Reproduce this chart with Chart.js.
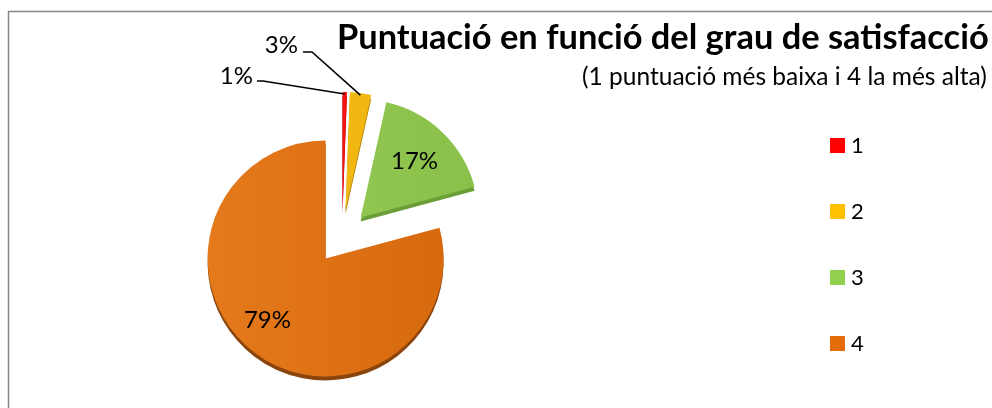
<!DOCTYPE html>
<html>
<head>
<meta charset="utf-8">
<script src="https://cdn.jsdelivr.net/npm/chart.js@4/dist/chart.umd.min.js"></script>
<style>
  html, body { margin: 0; padding: 0; background: #fff; overflow: hidden; }
</style>
</head>
<body>
<canvas id="chart" width="992" height="408"></canvas>
<script>
// data
const categories = ['1', '2', '3', '4'];
const shares = [0.6, 2.9, 17.3, 79.2];
const legendColors = ['#FF0000', '#FFC000', '#92D050', '#E46C0A'];
const faceLight = ['#FF2020', '#F6BE1C', '#97CC58', '#E67C1E'];
const faceDark = ['#EE0000', '#ECB00A', '#88BF48', '#D6670C'];
const rimColors = ['#A80000', '#B48606', '#6C9E38', '#8A450C'];
const titleText = 'Puntuació en funció del grau de satisfacció';
const subtitleText = '(1 puntuació més baixa i 4 la més alta)';

const EXPLODE = 27;  // how far every slice is pulled out
const DEPTH = 4;     // rim of the 3d pie
const FONT = 'Lato, "Open Sans", sans-serif';

// labels that sit outside the pie, with a leader line
const outsideLabels = {
  0: { x: 253, y: 76, path: [[257, 81], [263, 81]] },
  1: { x: 298, y: 45, path: [[303, 52], [312, 52]] }
};

function pull(arc) {
  const mid = (arc.startAngle + arc.endAngle) / 2;
  return [Math.cos(mid) * EXPLODE, Math.sin(mid) * EXPLODE];
}

function faceGradient(c) {
  const chart = c.chart;
  const area = chart.chartArea;
  const i = c.dataIndex;
  if (!area) return legendColors[i];
  const cx = (area.left + area.right) / 2;
  const g = chart.ctx.createLinearGradient(cx - 150, 0, cx + 150, 0);
  g.addColorStop(0, faceLight[i]);
  g.addColorStop(1, faceDark[i]);
  return g;
}

function paint(ctx, arc, color) {
  const saved = arc.options;
  arc.options = Object.assign({}, saved, { backgroundColor: color, borderColor: color });
  arc.draw(ctx);
  arc.options = saved;
}

function fitFont(ctx, text, weight, width) {
  ctx.font = weight + ' 100px ' + FONT;
  const size = 100 * width / ctx.measureText(text).width;
  return weight + ' ' + size.toFixed(2) + 'px ' + FONT;
}

const pie3d = {
  id: 'pie3d',
  beforeDraw(chart) {
    const ctx = chart.ctx;
    ctx.save();
    ctx.strokeStyle = '#868686';
    ctx.lineWidth = 1.5;
    ctx.beginPath();
    ctx.moveTo(8.5, 420);
    ctx.lineTo(8.5, 11.5);
    ctx.lineTo(1000, 11.5);
    ctx.stroke();
    ctx.restore();
  },
  beforeDatasetDraw(chart, args) {
    const ctx = chart.ctx;
    const arcs = args.meta.data;
    arcs.forEach((arc, i) => {
      const [dx, dy] = pull(arc);
      ctx.save();
      ctx.translate(dx, dy + DEPTH);
      paint(ctx, arc, rimColors[i]);
      ctx.restore();
    });
    arcs.forEach(arc => {
      const [dx, dy] = pull(arc);
      ctx.save();
      ctx.translate(dx, dy);
      arc.draw(ctx);
      ctx.restore();
    });
    return false;
  },
  afterDraw(chart) {
    const ctx = chart.ctx;
    const arcs = chart.getDatasetMeta(0).data;
    const total = shares.reduce((a, b) => a + b, 0);
    ctx.save();
    ctx.fillStyle = '#000';
    ctx.strokeStyle = '#000';
    ctx.lineWidth = 1.6;
    ctx.font = '24px ' + FONT;
    ctx.textBaseline = 'middle';

    arcs.forEach((arc, i) => {
      const label = Math.round(shares[i] / total * 100) + '%';
      const [dx, dy] = pull(arc);
      const mid = (arc.startAngle + arc.endAngle) / 2;
      const r = arc.outerRadius;
      const out = outsideLabels[i];
      if (out) {
        const ex = arc.x + dx + Math.cos(mid) * (r - 2);
        const ey = arc.y + dy + Math.sin(mid) * (r - 2);
        ctx.beginPath();
        ctx.moveTo(out.path[0][0], out.path[0][1]);
        for (let k = 1; k < out.path.length; k++) ctx.lineTo(out.path[k][0], out.path[k][1]);
        ctx.lineTo(ex, ey);
        ctx.stroke();
        ctx.textAlign = 'right';
        ctx.fillText(label, out.x, out.y);
      } else {
        const k = i === 3 ? 0.72 : 0.66;
        const a = i === 3 ? mid + 0.1 : mid;
        ctx.textAlign = 'center';
        ctx.fillText(label, arc.x + dx + Math.cos(a) * r * k, arc.y + dy + Math.sin(a) * r * k);
      }
    });

    // legend
    ctx.textAlign = 'left';
    ctx.font = '22px ' + FONT;
    categories.forEach((cat, i) => {
      const y = 138 + i * 66;
      ctx.fillStyle = legendColors[i];
      ctx.fillRect(830, y, 15, 15);
      ctx.fillStyle = '#000';
      ctx.fillText(cat, 851, y + 8);
    });

    // title + subtitle
    ctx.textBaseline = 'alphabetic';
    ctx.font = fitFont(ctx, titleText, 'bold', 652);
    ctx.fillText(titleText, 337, 49);
    ctx.font = fitFont(ctx, subtitleText, 'normal', 405);
    ctx.fillText(subtitleText, 582, 85);
    ctx.restore();
  }
};

new Chart(document.getElementById('chart').getContext('2d'), {
  type: 'pie',
  data: {
    labels: categories,
    datasets: [{
      data: shares,
      backgroundColor: faceGradient,
      borderWidth: 0,
      radius: 118
    }]
  },
  options: {
    responsive: false,
    animation: false,
    events: [],
    layout: { padding: { left: 0, right: 308, top: 66, bottom: 0 } },
    plugins: {
      legend: { display: false },
      tooltip: { enabled: false }
    }
  },
  plugins: [pie3d]
});
</script>
</body>
</html>
